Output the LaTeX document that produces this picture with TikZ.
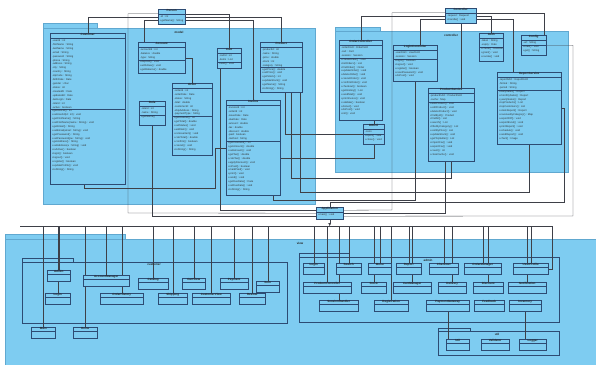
\documentclass[tikz,border=0pt]{standalone}
\usepackage{fontspec}
\setmainfont{Liberation Sans}
\usetikzlibrary{arrows.meta}

\definecolor{pkgfill}{RGB}{126,204,241}
\definecolor{pkgedge}{RGB}{96,168,208}
\definecolor{clsedge}{RGB}{45,75,115}
\definecolor{wirecol}{RGB}{62,64,72}

\pgfdeclarelayer{back}
\pgfdeclarelayer{wires}
\pgfsetlayers{back,wires,main}

\tikzset{
	pkg/.style={fill=pkgfill, draw=pkgedge, line width=0.3pt},
	subpkg/.style={draw=clsedge, line width=0.3pt},
	cls/.style={draw=clsedge, fill=pkgfill, line width=0.4pt, inner sep=0pt, anchor=north west},
	sep/.style={draw=clsedge, line width=0.25pt},
	ttl/.style={font=\fontsize{3}{3}\selectfont\bfseries, inner sep=0.6pt, anchor=north, text=black!85},
	attr/.style={font=\fontsize{2.6}{3}\selectfont, inner sep=0pt, anchor=west, text=black!80},
	pkgname/.style={font=\fontsize{3}{3}\selectfont\bfseries, inner sep=0.5pt, text=black!85},
	wire/.style={draw=wirecol, line width=0.3pt},
}

\begin{document}
\begin{tikzpicture}[x=1pt,y=-1pt]
	\useasboundingbox (0,0) rectangle (596,364);

	% packages
	\begin{pgfonlayer}{back}
		\draw[pkg] (43,23) rectangle (97,29);
		\draw[pkg] (43,28) rectangle (315,204);
		\draw[pkg] (335,27) rectangle (380,32);
		\draw[pkg] (335,31) rectangle (568,172);
		\draw[pkg] (5,234) rectangle (125,240);
		\draw[pkg] (5,239) rectangle (600,368);
		\draw[subpkg] (22,258) rectangle (73,262);
		\draw[subpkg] (22,262) rectangle (287,323);
		\draw[subpkg] (299,253) rectangle (349,257);
		\draw[subpkg] (299,257) rectangle (559,322);
		\draw[subpkg] (438,328) rectangle (470,331);
		\draw[subpkg] (438,331) rectangle (559,355);
	\end{pgfonlayer}
	\node[pkgname] at (179,32) {model};
	\node[pkgname] at (451,35) {controller};
	\node[pkgname] at (300,243) {view};
	\node[pkgname] at (154,265) {customer};
	\node[pkgname] at (428,260) {admin};
	\node[pkgname] at (497,334) {util};

	% model
	\node[cls, minimum width=27pt, minimum height=15pt] (person) at (158,9) {};
	\node[ttl] at (person.north) {Person};
	\draw[sep] ([yshift=-5pt]person.north west) -- ([yshift=-5pt]person.north east);
	\path (person.north west) ++(2,7.9) node[attr] {-id : int};
	\path (person.north west) ++(2,11.8) node[attr] {+getName() : String};

	\node[cls, minimum width=75pt, minimum height=151pt] (customer) at (50,33) {};
	\node[ttl] at (customer.north) {Customer};
	\draw[sep] ([yshift=-5pt]customer.north west) -- ([yshift=-5pt]customer.north east);
	\foreach \a [count=\i] in {-userId : int, -firstName : String, -lastName : String, -email : String, -password : String, -phone : String, -address : String, -city : String, -country : String, -zipCode : String, -birthDate : Date, -gender : char, -status : int, -createdAt : Date, -updatedAt : Date, -lastLogin : Date, -roleId : int, -active : boolean}
		\path (customer.north west) ++(2,{4+3.9*\i}) node[attr] {\a};
	\draw[sep] (customer.north west) ++(0,{6+3.9*18}) -- ++(75,0);
	\foreach \a [count=\i from 19] in {+getUserId() : int, +setUserId(id : int) : void, +getFirstName() : String, +setFirstName(name : String) : void, +getEmail() : String, +setEmail(email : String) : void, +getPassword() : String, +setPassword(pw : String) : void, +getAddress() : String, +setAddress(a : String) : void, +isActive() : boolean, +login() : boolean, +logout() : void, +register() : boolean, +updateProfile() : void, +toString() : String}
		\path (customer.north west) ++(2,{4+3.9*\i}) node[attr] {\a};

	\node[cls, minimum width=47pt, minimum height=31pt] (account) at (138,42) {};
	\node[ttl] at (account.north) {Account};
	\draw[sep] ([yshift=-5pt]account.north west) -- ([yshift=-5pt]account.north east);
	\foreach \a [count=\i] in {-accountId : int, -balance : double, -type : String}
		\path (account.north west) ++(2,{4+3.9*\i}) node[attr] {\a};
	\draw[sep] (account.north west) ++(0,{6+3.9*3}) -- ++(47,0);
	\foreach \a [count=\i from 4] in {+deposit() : void, +withdraw() : void, +getBalance() : double}
		\path (account.north west) ++(2,{4+3.9*\i}) node[attr] {\a};

	\node[cls, minimum width=26pt, minimum height=24pt] (role) at (139,101) {};
	\node[ttl] at (role.north) {Role};
	\draw[sep] ([yshift=-5pt]role.north west) -- ([yshift=-5pt]role.north east);
	\foreach \a [count=\i] in {-roleId : int, -name : String}
		\path (role.north west) ++(2,{4+3.9*\i}) node[attr] {\a};
	\draw[sep] (role.north west) ++(0,{6+3.9*2}) -- ++(26,0);
	\path (role.north west) ++(2,{4+3.9*3}) node[attr] {+getName()};

	\node[cls, minimum width=40pt, minimum height=72pt] (order) at (172,83) {};
	\node[ttl] at (order.north) {Order};
	\draw[sep] ([yshift=-5pt]order.north west) -- ([yshift=-5pt]order.north east);
	\foreach \a [count=\i] in {-orderId : int, -orderDate : Date, -status : String, -total : double, -customerId : int, -shipAddress : String, -paymentType : String}
		\path (order.north west) ++(2,{4+3.9*\i}) node[attr] {\a};
	\draw[sep] (order.north west) ++(0,{6+3.9*7}) -- ++(40,0);
	\foreach \a [count=\i from 8] in {+getOrderId() : int, +getTotal() : double, +setStatus() : void, +addItem() : void, +removeItem() : void, +calcTotal() : double, +confirm() : boolean, +cancel() : void, +toString() : String}
		\path (order.north west) ++(2,{4+3.9*\i}) node[attr] {\a};

	\node[cls, minimum width=24pt, minimum height=20pt] (cart) at (217,48) {};
	\node[ttl] at (cart.north) {Cart};
	\draw[sep] ([yshift=-5pt]cart.north west) -- ([yshift=-5pt]cart.north east);
	\foreach \a [count=\i] in {-cartId : int, -items : List}
		\path (cart.north west) ++(2,{4+3.9*\i}) node[attr] {\a};
	\draw[sep] (cart.north west) ++(0,{6+3.9*2}) -- ++(24,0);
	\path (cart.north west) ++(2,{4+3.9*3}) node[attr] {+add() : void};

	\node[cls, minimum width=42pt, minimum height=50pt] (product) at (260,42) {};
	\node[ttl] at (product.north) {Product};
	\draw[sep] ([yshift=-5pt]product.north west) -- ([yshift=-5pt]product.north east);
	\foreach \a [count=\i] in {-productId : int, -name : String, -price : double, -stock : int, -category : String}
		\path (product.north west) ++(2,{4+3.9*\i}) node[attr] {\a};
	\draw[sep] (product.north west) ++(0,{6+3.9*5}) -- ++(42,0);
	\foreach \a [count=\i from 6] in {+getPrice() : double, +setPrice() : void, +getStock() : int, +updateStock() : void, +getName() : String, +toString() : String}
		\path (product.north west) ++(2,{4+3.9*\i}) node[attr] {\a};

	\node[cls, minimum width=54pt, minimum height=95pt] (invoice) at (226,100) {};
	\node[ttl] at (invoice.north) {Invoice};
	\draw[sep] ([yshift=-5pt]invoice.north west) -- ([yshift=-5pt]invoice.north east);
	\foreach \a [count=\i] in {-invoiceId : int, -orderId : int, -issueDate : Date, -dueDate : Date, -amount : double, -tax : double, -discount : double, -paid : boolean, -method : String}
		\path (invoice.north west) ++(2,{4+3.9*\i}) node[attr] {\a};
	\draw[sep] (invoice.north west) ++(0,{6+3.9*9}) -- ++(54,0);
	\foreach \a [count=\i from 10] in {+getInvoiceId() : int, +getAmount() : double, +setAmount() : void, +getTax() : double, +calcTax() : double, +applyDiscount() : void, +isPaid() : boolean, +markPaid() : void, +print() : void, +send() : void, +getDueDate() : Date, +setDueDate() : void, +toString() : String}
		\path (invoice.north west) ++(2,{4+3.9*\i}) node[attr] {\a};

	% controller
	\node[cls, minimum width=31pt, minimum height=15pt] (controller) at (445,8) {};
	\node[ttl] at (controller.north) {Controller};
	\draw[sep] ([yshift=-5pt]controller.north west) -- ([yshift=-5pt]controller.north east);
	\path (controller.north west) ++(2,7.9) node[attr] {-request : Request};
	\path (controller.north west) ++(2,11.8) node[attr] {+handle() : void};

	\node[cls, minimum width=43pt, minimum height=80pt] (orderctl) at (339,40) {};
	\node[ttl] at (orderctl.north) {OrderController};
	\draw[sep] ([yshift=-5pt]orderctl.north west) -- ([yshift=-5pt]orderctl.north east);
	\foreach \a [count=\i] in {-orderDAO : OrderDAO, -cart : Cart, -session : Session}
		\path (orderctl.north west) ++(2,{4+3.9*\i}) node[attr] {\a};
	\draw[sep] (orderctl.north west) ++(0,{6+3.9*3}) -- ++(43,0);
	\foreach \a [count=\i from 4] in {+createOrder() : void, +listOrders() : List, +findOrder() : Order, +updateOrder() : void, +deleteOrder() : void, +cancelOrder() : void, +confirmOrder() : void, +checkout() : boolean, +getHistory() : List, +sendMail() : void, +printInvoice() : void, +validate() : boolean, +doGet() : void, +doPost() : void, +init() : void}
		\path (orderctl.north west) ++(2,{4+3.9*\i}) node[attr] {\a};

	\node[cls, minimum width=44pt, minimum height=36pt] (loginctl) at (393,45) {};
	\node[ttl] at (loginctl.north) {LoginController};
	\draw[sep] ([yshift=-5pt]loginctl.north west) -- ([yshift=-5pt]loginctl.north east);
	\foreach \a [count=\i] in {-userDAO : UserDAO, -session : Session}
		\path (loginctl.north west) ++(2,{4+3.9*\i}) node[attr] {\a};
	\draw[sep] (loginctl.north west) ++(0,{6+3.9*2}) -- ++(44,0);
	\foreach \a [count=\i from 3] in {+login() : boolean, +logout() : void, +register() : boolean, +resetPassword() : void, +doPost() : void}
		\path (loginctl.north west) ++(2,{4+3.9*\i}) node[attr] {\a};

	\node[cls, minimum width=46pt, minimum height=73pt] (prodsrv) at (428,88) {};
	\node[ttl] at (prodsrv.north) {ProductService};
	\draw[sep] ([yshift=-5pt]prodsrv.north west) -- ([yshift=-5pt]prodsrv.north east);
	\foreach \a [count=\i] in {-productDAO : ProductDAO, -cache : Map}
		\path (prodsrv.north west) ++(2,{4+3.9*\i}) node[attr] {\a};
	\draw[sep] (prodsrv.north west) ++(0,{6+3.9*2}) -- ++(46,0);
	\foreach \a [count=\i from 3] in {+addProduct() : void, +editProduct() : void, +deleteProduct() : void, +findById() : Product, +findAll() : List, +search() : List, +filterByCategory() : List, +sortByPrice() : List, +updateStock() : void, +getTopSeller() : List, +importCsv() : void, +exportCsv() : void, +count() : int, +clearCache() : void}
		\path (prodsrv.north west) ++(2,{4+3.9*\i}) node[attr] {\a};

	\node[cls, minimum width=24pt, minimum height=28pt] (auth) at (479,33) {};
	\node[ttl] at (auth.north) {Auth};
	\draw[sep] ([yshift=-5pt]auth.north west) -- ([yshift=-5pt]auth.north east);
	\foreach \a [count=\i] in {-token : String, -expiry : Date}
		\path (auth.north west) ++(2,{4+3.9*\i}) node[attr] {\a};
	\draw[sep] (auth.north west) ++(0,{6+3.9*2}) -- ++(24,0);
	\foreach \a [count=\i from 3] in {+check() : boolean, +grant() : void, +revoke() : void}
		\path (auth.north west) ++(2,{4+3.9*\i}) node[attr] {\a};

	\node[cls, minimum width=25pt, minimum height=20pt] (config) at (521,35) {};
	\node[ttl] at (config.north) {Config};
	\draw[sep] ([yshift=-5pt]config.north west) -- ([yshift=-5pt]config.north east);
	\path (config.north west) ++(2,7.9) node[attr] {-url : String};
	\draw[sep] (config.north west) ++(0,9.9) -- ++(25,0);
	\foreach \a [count=\i from 2] in {+load() : void, +get() : String}
		\path (config.north west) ++(2,{4+3.9*\i}) node[attr] {\a};

	\node[cls, minimum width=64pt, minimum height=72pt] (reportsrv) at (497,72) {};
	\node[ttl] at (reportsrv.north) {ReportService};
	\draw[sep] ([yshift=-5pt]reportsrv.north west) -- ([yshift=-5pt]reportsrv.north east);
	\foreach \a [count=\i] in {-reportDAO : ReportDAO, -format : String, -period : String}
		\path (reportsrv.north west) ++(2,{4+3.9*\i}) node[attr] {\a};
	\draw[sep] (reportsrv.north west) ++(0,{6+3.9*3}) -- ++(64,0);
	\foreach \a [count=\i from 4] in {+dailySales() : Report, +monthlySales() : Report, +yearlySales() : Report, +topProducts() : List, +topCustomers() : List, +stockReport() : Report, +revenueByCategory() : Map, +exportPdf() : void, +exportExcel() : void, +printReport() : void, +schedule() : void, +sendReport() : void, +chart() : Image}
		\path (reportsrv.north west) ++(2,{4+3.9*\i}) node[attr] {\a};

	\node[cls, minimum width=21pt, minimum height=20pt] (dbutil) at (363,124) {};
	\node[ttl] at (dbutil.north) {DBUtil};
	\draw[sep] ([yshift=-5pt]dbutil.north west) -- ([yshift=-5pt]dbutil.north east);
	\path (dbutil.north west) ++(2,7.9) node[attr] {-conn};
	\draw[sep] (dbutil.north west) ++(0,9.9) -- ++(21,0);
	\foreach \a [count=\i from 2] in {+open() : void, +close() : void}
		\path (dbutil.north west) ++(2,{4+3.9*\i}) node[attr] {\a};

	% main class
	\node[cls, minimum width=27pt, minimum height=12pt] (app) at (316,207) {};
	\node[ttl] at (app.north) {Application};
	\draw[sep] ([yshift=-5pt]app.north west) -- ([yshift=-5pt]app.north east);
	\path (app.north west) ++(2,7.9) node[attr] {+main() : void};

	% view
	\foreach \nm/\x/\y/\w/\t in {e1/47/270/23/Admin, e2/83/275/46/AccountManager, e3/138/278/30/Catalog, e4/182/278/23/CartView, e5/220/278/28/Payment, e6/256/281/23/Item, e7/45/293/25/Login, e8/100/293/43/OrderHistory, e9/158/293/29/Shipping, e10/192/293/38/CustomerView, e11/239/293/26/Review, e12/31/327/24/Main, e13/73/327/24/Home,
		c1/303/263/21/Login, c2/336/263/25/Search, c3/368/263/23/Menu, c4/396/263/25/Report, c5/429/263/29/Checkout, c6/464/263/37/OrderManager, c7/513/263/35/UserProfile,
		c8/303/282/48/ProductController, c9/361/282/25/Stock, c10/393/282/38/CartManager, c11/438/282/28/Delivery, c12/473/282/30/Discount, c13/508/282/38/Notification,
		c14/319/300/39/SessionHandler, c15/374/300/34/Registration, c16/426/300/43/PaymentGateway, c17/474/300/30/Feedback, c18/509/300/32/Inventory,
		d1/446/339/23/Util, d2/481/339/28/Validator, d3/519/339/27/Logger} {
		\node[cls, minimum width=\w pt, minimum height=11pt] (\nm) at (\x,\y) {};
		\node[ttl] at (\nm.north) {\t};
		\draw[sep] ([yshift=-4.5pt]\nm.north west) -- ([yshift=-4.5pt]\nm.north east);
	}

	% connectors
	\coordinate (busL) at (20,226);
	\coordinate (busR) at (552,226);
	\begin{pgfonlayer}{wires}
		\draw[wire] (busL) -- (busR);
		\draw[wire, -{Triangle[length=3pt,width=2.6pt]}] (app.south) -- (app.south |- busL);
		\foreach \nm in {e1,e2,e3,e4,e5,e6,e7,e8,e9,e10,e11,e12,e13,c1,c2,c3,c4,c5,c6,c7,c8,c9,c10,c11,c12,c13,c14,c15}
			\draw[wire] (\nm.north) -- (\nm.north |- busL);
		\draw[wire] (busR) |- (c7.east);
		\draw[wire] (c18.south) -- (c18.south |- d3.north);
		\draw[wire] (c16.south) -- (c16.south |- d1.north);

		\draw[wire] (person.west) -| (customer.north);
		\draw[wire] ([yshift=3pt]person.west) -| (128,213) -- (app.west);
		\draw[wire] ([yshift=-3pt]person.west) -| ([xshift=-18pt]account.north);
		\draw[wire] (person.east) -| (product.north);
		\draw[wire] ([yshift=3pt]person.east) -| (cart.north);
		\draw[wire] ([yshift=-3pt]person.east) -| (invoice.north);
		\draw[wire] (order.north) |- (account.east);
		\draw[wire] (role.south) |- ([yshift=-3pt]app.west);
		\draw[wire] ([xshift=-9pt]cart.south) |- ([yshift=3pt]app.west);
		\draw[wire] ([xshift=-4pt]customer.south) |- (215,188) |- (invoice.west);
		\draw[wire] ([xshift=4pt]product.south) |- (dbutil.west);
		\draw[wire] ([xshift=10pt]product.south) -- ++(0,86) -| (prodsrv.south);
		\draw[wire] ([xshift=19pt]product.south) -- ++(0,100) -| (reportsrv.south);

		\draw[wire] (controller.west) -| (orderctl.north);
		\draw[wire] ([yshift=3pt]controller.west) -| (392,210) -- ([yshift=3pt]app.east);
		\draw[wire] ([yshift=-3pt]controller.west) -| ([xshift=5pt]loginctl.north);
		\draw[wire] (controller.south) -- (controller.south |- prodsrv.north);
		\draw[wire] (controller.east) -| (auth.north);
		\draw[wire] ([yshift=-3pt]controller.east) -| ([xshift=-16pt]reportsrv.north);
		\draw[wire] ([yshift=3pt]controller.east) -| ([xshift=10pt]config.north);
		\draw[wire] (config.east) -| (573,216) -- ([yshift=-3pt]app.east);
		\draw[wire] (reportsrv.east) -| (564,202) -| (app.north);
		\draw[wire] ([xshift=-6pt]prodsrv.south) |- (app.east);
		\draw[wire] (dbutil.north) -- (dbutil.north |- orderctl.south);
		\draw[wire] (dbutil.south) |- ([yshift=-10pt]invoice.east);
		\draw[wire] (loginctl.south) -- ++(0,119) -| ([xshift=20pt]invoice.south);
	\end{pgfonlayer}
\end{tikzpicture}
\end{document}
